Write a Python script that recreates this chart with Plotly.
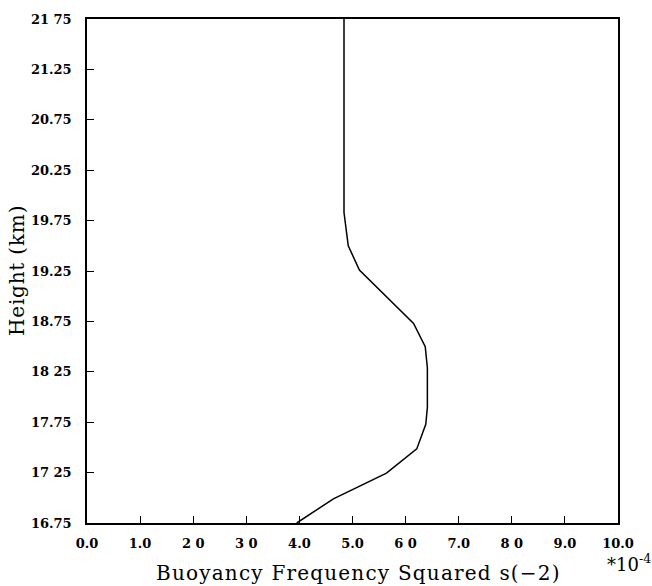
import plotly.graph_objects as go

# Data
n2_e4 = [3.95, 4.39, 4.64, 5.64, 6.21, 6.38, 6.41, 6.41, 6.37, 6.15, 5.13, 4.92, 4.84, 4.84]
height_km = [16.75, 16.90, 16.99, 17.245, 17.485, 17.73, 17.895, 18.29, 18.50, 18.73, 19.26, 19.50, 19.83, 21.75]

x_tickvals = [0, 1, 2, 3, 4, 5, 6, 7, 8, 9, 10]
x_ticktext = ["0.0", "1.0", "2 0", "3 0", "4.0", "5.0", "6 0", "7.0", "8 0", "9.0", "10.0"]
y_tickvals = [16.75, 17.25, 17.75, 18.25, 18.75, 19.25, 19.75, 20.25, 20.75, 21.25, 21.75]
y_ticktext = ["16.75", "17 25", "17.75", "18 25", "18.75", "19.25", "19.75", "20.25", "20.75", "21.25", "21 75"]

FONT = "DejaVu Serif"

fig = go.Figure()
fig.add_trace(go.Scatter(x=n2_e4, y=height_km, mode="lines",
                         line=dict(color="black", width=1.5), showlegend=False,
                         hoverinfo="skip"))

axis_common = dict(showline=True, mirror=True, linecolor="black", linewidth=1.5,
                   ticks="inside", ticklen=7, tickcolor="black", tickwidth=1.2,
                   showgrid=False, zeroline=False,
                   tickfont=dict(family=FONT, size=13, color="black", weight="bold"))

fig.update_xaxes(range=[0, 10], tickvals=x_tickvals, ticktext=x_ticktext,
                 ticklabelstandoff=8, **axis_common)
fig.update_yaxes(range=[16.75, 21.75], tickvals=y_tickvals, ticktext=y_ticktext,
                 ticklabelstandoff=11, **axis_common)

fig.add_annotation(text='<span style="letter-spacing:1.2px">Buoyancy Frequency Squared s(\u22122)</span>',
                   xref="paper", yref="paper",
                   x=0.5, xshift=6, y=0, yshift=-50, xanchor="center", yanchor="middle",
                   showarrow=False, font=dict(family=FONT, size=20, color="black"))
fig.add_annotation(text='<span style="letter-spacing:0.8px">Height (km)</span>',
                   xref="paper", yref="paper",
                   x=0, xshift=-70, y=0.5, xanchor="center", yanchor="middle",
                   textangle=-90, showarrow=False,
                   font=dict(family=FONT, size=20, color="black"))
fig.add_annotation(text="*10<sup>-4</sup>", xref="paper", yref="paper",
                   x=1, xshift=11, y=0, yshift=-40, xanchor="center", yanchor="middle",
                   showarrow=False, font=dict(family=FONT, size=18, color="black"))

fig.update_layout(width=652, height=586,
                  margin=dict(l=87, r=34, t=15, b=63),
                  plot_bgcolor="white", paper_bgcolor="white")

fig.write_html("out.html", config={"displayModeBar": False},
               post_script="document.body.style.margin='0';document.body.style.overflow='hidden';")
